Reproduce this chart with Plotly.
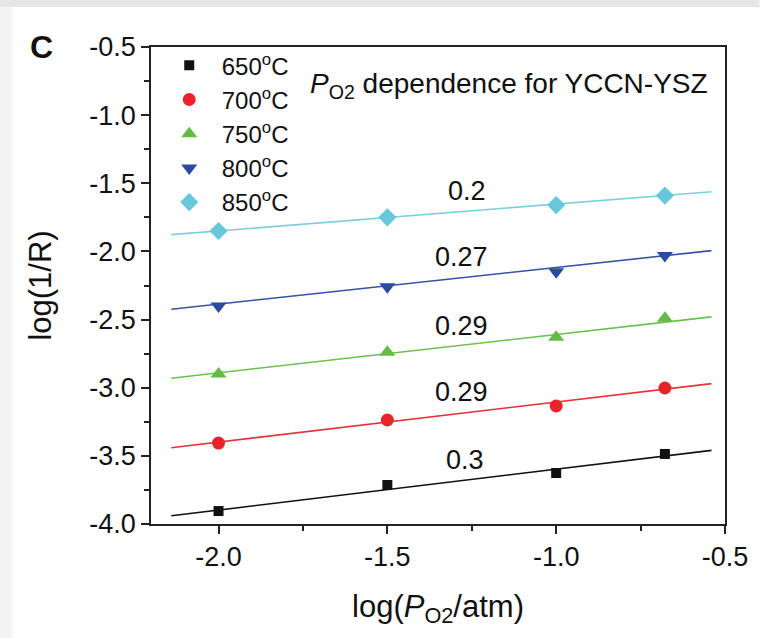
import plotly.graph_objects as go

# ---- data ----
x_log_po2 = [-2.0, -1.5, -1.0, -0.678]
temps = ["650", "700", "750", "800", "850"]
y_650 = [-3.905, -3.714, -3.626, -3.486]
y_700 = [-3.406, -3.237, -3.134, -3.002]
y_750 = [-2.90, -2.74, -2.63, -2.49]
y_800 = [-2.40, -2.26, -2.15, -2.03]
y_850 = [-1.85, -1.75, -1.66, -1.59]
fit_x = [-2.14, -0.54]
fit_650 = [-3.94, -3.46]
fit_700 = [-3.44, -2.97]
fit_750 = [-2.93, -2.48]
fit_800 = [-2.424, -1.994]
fit_850 = [-1.877, -1.562]
slopes = ["0.3", "0.29", "0.29", "0.27", "0.2"]
slope_pos_x = [-1.27, -1.28, -1.28, -1.28, -1.265]
slope_pos_y = [-3.53, -3.03, -2.55, -2.04, -1.555]

series_y = [y_650, y_700, y_750, y_800, y_850]
series_fit = [fit_650, fit_700, fit_750, fit_800, fit_850]
marker_colors = ["#111111", "#e8242b", "#66bb46", "#2c4a9e", "#66c8da"]
line_colors = ["#111111", "#e5323a", "#6cc04e", "#3452a6", "#7ccfdc"]
symbols = ["square", "circle", "triangle-up", "triangle-down", "diamond"]
sizes = [10, 13, 14, 14, 14]

FONT = "Arial, Liberation Sans, sans-serif"

fig = go.Figure()

# fitted lines (drawn first, under the markers)
for i in range(5):
    fig.add_trace(go.Scatter(
        x=fit_x, y=series_fit[i], mode="lines",
        line=dict(color=line_colors[i], width=1.6),
        showlegend=False, hoverinfo="skip"))

for i in range(5):
    fig.add_trace(go.Scatter(
        x=x_log_po2, y=series_y[i], mode="markers",
        name=temps[i] + "<sup>o</sup>C",
        legendgroup="g" + temps[i],
        marker=dict(symbol=symbols[i], size=sizes[i], color=marker_colors[i],
                    line=dict(width=0))))

for i in range(5):
    fig.add_annotation(x=slope_pos_x[i], y=slope_pos_y[i], text=slopes[i],
                       showarrow=False, font=dict(size=27, color="#111111", family=FONT),
                       xanchor="center", yanchor="middle")

fig.add_annotation(xref="paper", yref="paper", x=0.273, y=0.92,
                   text="<i>P</i><sub>O2</sub> dependence for YCCN-YSZ",
                   showarrow=False, xanchor="left", yanchor="middle",
                   font=dict(size=28, color="#111111", family=FONT))

fig.add_annotation(xref="paper", yref="paper", x=-0.19, y=1.0,
                   text="<b>C</b>", showarrow=False, xanchor="center", yanchor="middle",
                   font=dict(size=32, color="#111111", family=FONT))

# background decorations (grey frame strips)
fig.add_shape(type="rect", xref="paper", yref="paper", x0=-0.27, x1=1.06,
              y0=1.0839, y1=1.10, fillcolor="#e6e6e6", line_width=0, layer="below")
fig.add_shape(type="rect", xref="paper", yref="paper", x0=-0.27, x1=-0.2414,
              y0=-0.25, y1=1.0839, fillcolor="#f4f4f4", line_width=0, layer="below")

axis_common = dict(
    showline=True, linecolor="#222222", linewidth=1.5, mirror=True,
    ticks="outside", ticklen=8, tickwidth=1.5, tickcolor="#222222",
    showgrid=False, zeroline=False,
    tickfont=dict(size=27, color="#111111", family=FONT),
)

fig.update_xaxes(range=[-2.2, -0.5], tickvals=[-2.0, -1.5, -1.0, -0.5],
                 ticktext=["-2.0", "-1.5", "-1.0", "-0.5"],
                 minor=dict(tickvals=[-1.75, -1.25, -0.75], ticks="outside", ticklen=5,
                            tickwidth=1.5, tickcolor="#222222"),
                 title=dict(text="log(<i>P</i><sub>O2</sub>/atm)", standoff=24,
                            font=dict(size=31, color="#111111", family=FONT)),
                 **axis_common)
fig.update_yaxes(range=[-4.0, -0.5],
                 tickvals=[-4.0, -3.5, -3.0, -2.5, -2.0, -1.5, -1.0, -0.5],
                 ticktext=["-4.0", "-3.5", "-3.0", "-2.5", "-2.0", "-1.5", "-1.0", "-0.5"],
                 minor=dict(tickvals=[-3.75, -3.25, -2.75, -2.25, -1.75, -1.25, -0.75],
                            ticks="outside", ticklen=5, tickwidth=1.5, tickcolor="#222222"),
                 title=dict(text="log(1/R)", standoff=28,
                            font=dict(size=31, color="#111111", family=FONT)),
                 **axis_common)

fig.update_layout(
    width=760, height=638,
    margin=dict(l=151, r=29, t=47, b=114),
    paper_bgcolor="white", plot_bgcolor="white",
    font=dict(family=FONT, color="#111111"),
    legend=dict(x=0.01, y=1.008, xanchor="left", yanchor="top",
                bgcolor="rgba(0,0,0,0)", borderwidth=0,
                font=dict(size=24, color="#111111", family=FONT),
                tracegroupgap=0, itemwidth=55),
)

fig.write_html("out.html")
